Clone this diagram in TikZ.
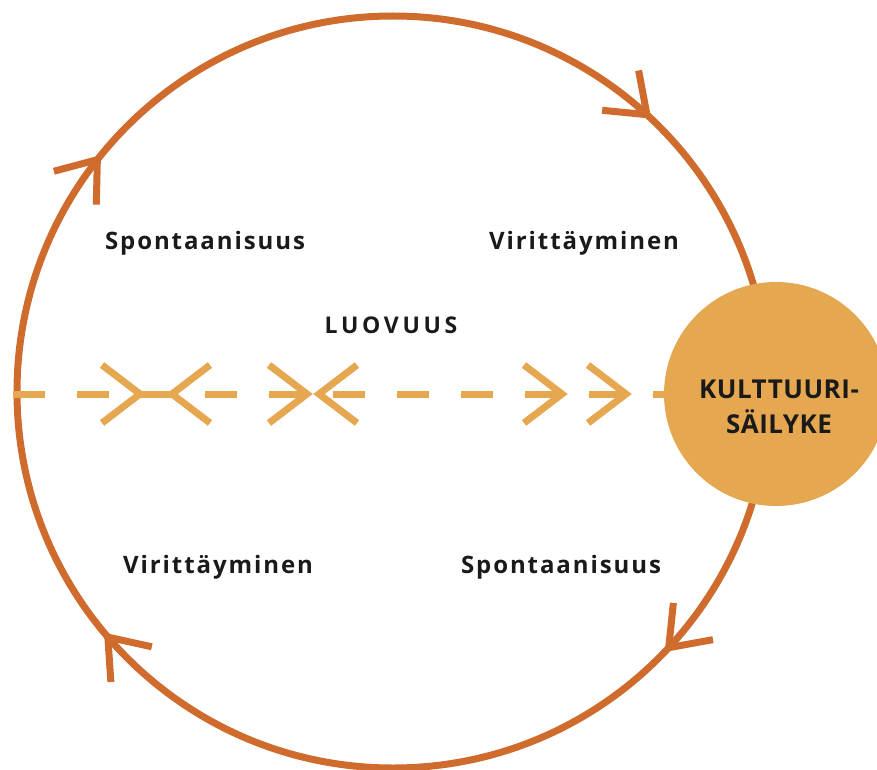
\documentclass[tikz,border=0pt]{standalone}
\usepackage{fontspec}
\setmainfont{Open Sans}
\newfontfamily\tekstifont{Open Sans}[LetterSpace=8]
\newfontfamily\isotfont{Open Sans}[LetterSpace=16]
\newfontfamily\pallofont{Open Sans}[LetterSpace=2]
\usetikzlibrary{decorations.markings}
\definecolor{kehys}{HTML}{D06B2E}
\definecolor{kelta}{HTML}{E6A751}
\definecolor{musta}{HTML}{1A1A1A}
\tikzset{
  kehysviiva/.style={draw=kehys,line width=7pt},
  kulma/.style={draw=kehys,line width=7pt,line join=miter,line cap=butt},
  katko/.style={draw=kelta,line width=7pt,dash pattern=on 32pt off 32pt},
  nuoli/.style={draw=kelta,line width=7pt,solid,line join=miter},
  nimi/.style={text=musta,anchor=base,font=\tekstifont\bfseries\fontsize{24}{28}\selectfont},
  isot/.style={text=musta,align=center,anchor=base,font=\pallofont\bfseries\fontsize{26}{35}\selectfont},
}
\begin{document}
\begin{tikzpicture}[x=1pt,y=-1pt]
  \useasboundingbox (0,0) rectangle (877,770);
  \coordinate (kierto) at (393,392);
  \coordinate (alku) at (13,394);
  % kehä myötäpäivään
  \draw[kehysviiva,postaction={decorate,decoration={markings,
      mark=at position 0.119 with {\draw[kulma] (-36,-27) -- (0,0) -- (-36,27);},
      mark=at position 0.387 with {\draw[kulma] (-36,-27) -- (0,0) -- (-36,27);},
      mark=at position 0.606 with {\draw[kulma] (-36,-27) -- (0,0) -- (-36,27);},
      mark=at position 0.868 with {\draw[kulma] (-36,-27) -- (0,0) -- (-36,27);}}}]
    (kierto) ++(376,0) arc[start angle=0,end angle=360,radius=376];
  \node[circle,fill=kelta,minimum size=224pt,inner sep=0pt] (sailyke) at (776,394) {};
  \node[isot] (sailyketeksti) at (779,433) {KULTTUURI-\\SÄILYKE};
  % luovuuden akseli
  \draw[katko,postaction={decorate,decoration={markings,
      mark=at position 127pt with {\draw[nuoli] (-38,-29) -- (0,0) -- (-38,29);},
      mark=at position 159pt with {\draw[nuoli] (38,-29) -- (0,0) -- (38,29);},
      mark=at position 294pt with {\draw[nuoli] (-38,-29) -- (0,0) -- (-38,29);},
      mark=at position 306pt with {\draw[nuoli] (38,-29) -- (0,0) -- (38,29);},
      mark=at position 549pt with {\draw[nuoli] (-38,-29) -- (0,0) -- (-38,29);},
      mark=at position 613pt with {\draw[nuoli] (-38,-29) -- (0,0) -- (-38,29);}}}]
    (alku) -- (alku -| sailyke.west);
  \node[nimi] (spont1) at (205,249) {Spontaanisuus};
  \node[nimi] (virit1) at (584,249) {Virittäyminen};
  \node[nimi,font=\isotfont\bfseries\fontsize{23}{26}\selectfont] (luovuus) at (391,333) {LUOVUUS};
  \node[nimi] (virit2) at (218,573) {Virittäyminen};
  \node[nimi] (spont2) at (561,573) {Spontaanisuus};
\end{tikzpicture}
\end{document}
